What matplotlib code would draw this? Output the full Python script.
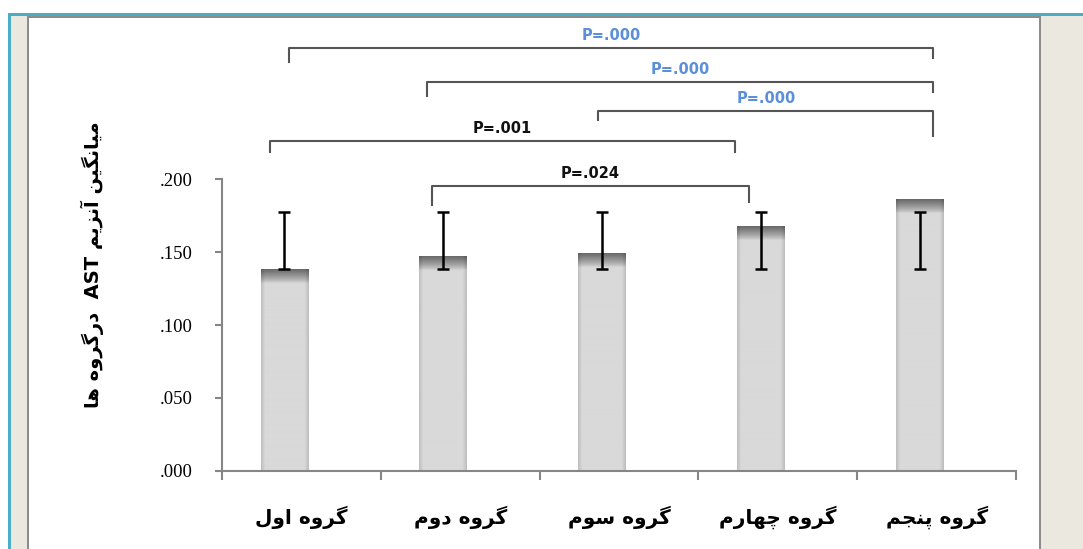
import re
import numpy as np
import matplotlib
matplotlib.use("Agg")
import matplotlib.pyplot as plt
from matplotlib.patches import Rectangle

# chart data
groups = ["گروه اول", "گروه دوم", "گروه سوم", "گروه چهارم", "گروه پنجم"]
means = [0.138, 0.147, 0.149, 0.168, 0.186]
err_low = [0.1385, 0.1385, 0.1385, 0.1385, 0.1385]
err_high = [0.1777, 0.1777, 0.1777, 0.1777, 0.1777]
y_ticks = [0.0, 0.05, 0.1, 0.15, 0.2]
y_tick_labels = [".000", ".050", ".100", ".150", ".200"]
y_label = "میانگین آنزیم AST  درگروه ها"

# significance brackets: left x, right x, level, left drop, right drop, label
p_labels = ["P=.000", "P=.000", "P=.000", "P=.001", "P=.024"]
p_colors = ["#5b8fd9", "#5b8fd9", "#5b8fd9", "#111111", "#111111"]
br_left = [-0.076, 0.79, 1.87, -0.20, 0.82]
br_right = [3.98, 3.98, 3.98, 2.73, 2.82]
br_level = [0.2903, 0.2670, 0.2469, 0.2263, 0.1954]
br_drop_l = [0.0096, 0.0096, 0.0062, 0.0075, 0.0130]
br_drop_r = [0.0068, 0.0070, 0.0172, 0.0075, 0.0110]

# --- minimal Persian shaping (matplotlib has no complex text layout) ---
FORMS = {
    "ا": ("\uFE8D", "\uFE8E", None, None),
    "آ": ("\uFE81", "\uFE82", None, None),
    "پ": ("\uFB56", "\uFB57", "\uFB58", "\uFB59"),
    "ج": ("\uFE9D", "\uFE9E", "\uFE9F", "\uFEA0"),
    "چ": ("\uFB7A", "\uFB7B", "\uFB7C", "\uFB7D"),
    "د": ("\uFEA9", "\uFEAA", None, None),
    "ر": ("\uFEAD", "\uFEAE", None, None),
    "ز": ("\uFEAF", "\uFEB0", None, None),
    "س": ("\uFEB1", "\uFEB2", "\uFEB3", "\uFEB4"),
    "گ": ("\uFB92", "\uFB93", "\uFB94", "\uFB95"),
    "ل": ("\uFEDD", "\uFEDE", "\uFEDF", "\uFEE0"),
    "م": ("\uFEE1", "\uFEE2", "\uFEE3", "\uFEE4"),
    "ن": ("\uFEE5", "\uFEE6", "\uFEE7", "\uFEE8"),
    "ه": ("\uFEE9", "\uFEEA", "\uFEEB", "\uFEEC"),
    "و": ("\uFEED", "\uFEEE", None, None),
    "ی": ("\uFBFC", "\uFBFD", "\uFBFE", "\uFBFF"),
}


def shape(text):
    out = []
    for i, ch in enumerate(text):
        if ch not in FORMS:
            out.append(ch)
            continue
        f = FORMS[ch]
        prev = text[i - 1] if i > 0 else ""
        nxt = text[i + 1] if i + 1 < len(text) else ""
        jp = prev in FORMS and FORMS[prev][2] is not None
        jn = f[2] is not None and nxt in FORMS
        if jp and jn:
            out.append(f[3])
        elif jp:
            out.append(f[1])
        elif jn:
            out.append(f[2])
        else:
            out.append(f[0])
    return "".join(out)


def rtl(text):
    runs = re.findall(r"[A-Za-z0-9]+|[^A-Za-z0-9]+", shape(text))
    return "".join(r if re.match(r"[A-Za-z0-9]", r) else r[::-1]
                   for r in reversed(runs))


W, H = 1083, 549
fig = plt.figure(figsize=(W / 100, H / 100), dpi=100)


def px_rect(x0, y0, x1, y1, color):
    fig.add_artist(Rectangle((x0 / W, 1 - y1 / H), (x1 - x0) / W, (y1 - y0) / H,
                             transform=fig.transFigure, color=color, lw=0, zorder=0))


# page frame
px_rect(8, 13, 1083, 16, "#4bacc6")
px_rect(8, 13, 11, 549, "#4bacc6")
px_rect(11, 16, 27, 549, "#ebe9df")
px_rect(1041, 16, 1083, 549, "#ebe9df")
px_rect(27, 16, 29, 549, "#8c8c8c")
px_rect(1039, 16, 1041, 549, "#8c8c8c")
px_rect(27, 16, 1041, 18, "#8c8c8c")

ax = fig.add_axes([222 / W, 1 - 470.7 / H, 794 / W, 291.4 / H])

x = np.arange(len(groups))
bar_x = x - 0.107
bar_w = 0.30
ax.bar(bar_x, means, width=bar_w, color="#d9d9d9", zorder=2)

# shading on each bar: dark top band + slightly darker sides
band = 0.0095
cols = np.linspace(0, 1, 48)
side = 1 - 0.12 * np.clip(1 - np.minimum(cols, 1 - cols) / 0.08, 0, 1)
for bx, h in zip(bar_x, means):
    rows = np.linspace(0, h, 600)
    t = np.clip((rows - (h - band)) / band, 0, 1)
    vert = 0.85 - 0.44 * t ** 0.8
    img = vert[:, None] * side[None, :]
    ax.imshow(img, extent=[bx - bar_w / 2, bx + bar_w / 2, 0, h], origin="lower",
              cmap="gray", vmin=0, vmax=1, aspect="auto", zorder=2,
              interpolation="bilinear")

mid = (np.array(err_low) + np.array(err_high)) / 2
half = (np.array(err_high) - np.array(err_low)) / 2
ax.errorbar(bar_x, mid, yerr=half, fmt="none", ecolor="black", elinewidth=1.8,
            capsize=4.5, capthick=1.8, zorder=3)

# significance brackets
for xl, xr, lv, dl, dr, lab, c in zip(br_left, br_right, br_level, br_drop_l,
                                      br_drop_r, p_labels, p_colors):
    ax.plot([xl, xl, xr, xr], [lv - dl, lv, lv, lv - dr], color="#555555",
            lw=1.5, clip_on=False, zorder=3)
    ax.text((xl + xr) / 2, lv + 0.0035, lab, ha="center", va="bottom",
            color=c, fontsize=10.5, fontweight="bold", family="DejaVu Sans",
            clip_on=False)

ax.set_xlim(-0.5, len(groups) - 0.5)
ax.set_ylim(0, 0.2)

# axes styling
for s in ["top", "right"]:
    ax.spines[s].set_visible(False)
for s in ["left", "bottom"]:
    ax.spines[s].set_color("#868686")
    ax.spines[s].set_linewidth(1.5)

ax.set_yticks(y_ticks)
ax.set_yticklabels(y_tick_labels, family="Liberation Serif", fontsize=13.5)
ax.tick_params(axis="y", direction="out", length=5, width=1.5, color="#868686", pad=16)

ax.set_xticks(np.arange(-0.5, len(groups)), labels=[])
ax.set_xticks(x, labels=[rtl(g) for g in groups], minor=True)
ax.tick_params(axis="x", which="major", direction="out", length=6.5, width=1.5,
               color="#868686")
ax.tick_params(axis="x", which="minor", length=0, pad=25)
for t in ax.get_xticklabels(minor=True):
    t.set_fontweight("bold")
    t.set_fontsize(14.5)
    t.set_family("DejaVu Sans")

fig.text(92 / W, 1 - 265 / H, rtl(y_label), rotation=90, ha="center", va="center",
         fontsize=14, fontweight="bold", family="DejaVu Sans")

fig.savefig("out.png", dpi=100)
